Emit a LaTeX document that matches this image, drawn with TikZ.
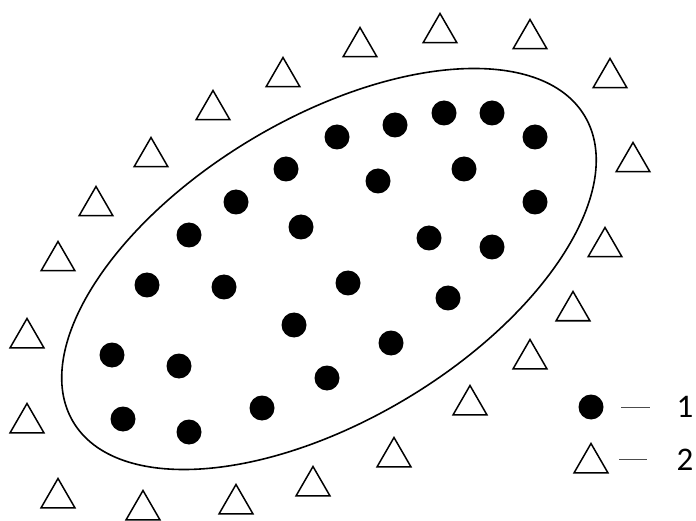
\documentclass[tikz,border=0pt]{standalone}
\usepackage{fontspec}
\setmainfont{Carlito}
\usetikzlibrary{shapes.geometric}
\begin{document}
\begin{tikzpicture}[x=1pt,y=-1pt,
  dot/.style={circle,fill=black,inner sep=0pt,minimum size=25pt},
  tri/.style={regular polygon,regular polygon sides=3,draw=black,line width=1.5pt,inner sep=0pt,minimum size=39pt},
  lbl/.style={inner sep=0pt,font=\fontsize{33}{40}\selectfont},
  bound/.style={draw=black,line width=1.6pt}]
\useasboundingbox (0,0) rectangle (696,521);
% boundary curve
\coordinate (c) at (329,269);
\draw[bound,rotate around={30.9:(c)}] (c) ellipse (298 and 151);
% class 1 dots
\foreach \x/\y [count=\i] in {337/137,286/169,236/202,301/227,189/235,395/125,444/113,492/113,535/137,464/169,
  378/181,535/202,429/238,492/247,147/285,224/287,348/283,294/325,112/355,179/366,
  327/378,262/408,123/419,189/432,448/298,391/343}
  \node[dot] (d\i) at (\x,\y) {};
% class 2 triangles
\foreach \x/\y [count=\i] in {283/77,213/110,151/157,96/206,58/261,360/47,440/33,530/39,610/78,633/162,
  605/247,27/338,27/423,58/498,143/510,236/504,313/486,573/311,530/359,470/405,394/457}
  \node[tri] (t\i) at (\x,\y) {};
% legend
\node[dot] (ld) at (591,407) {};
\node[tri] (lt) at (591,463) {};
\coordinate (a1) at (621,407);
\coordinate (b1) at (650,407);
\coordinate (a2) at (619,459);
\coordinate (b2) at (647,459);
\draw[line width=0.8pt,black!70] (a1) -- (b1);
\draw[line width=0.8pt,black!70] (a2) -- (b2);
\node[lbl] (l1) at (685,407) {1};
\node[lbl] (l2) at (685,460) {2};
\end{tikzpicture}
\end{document}
